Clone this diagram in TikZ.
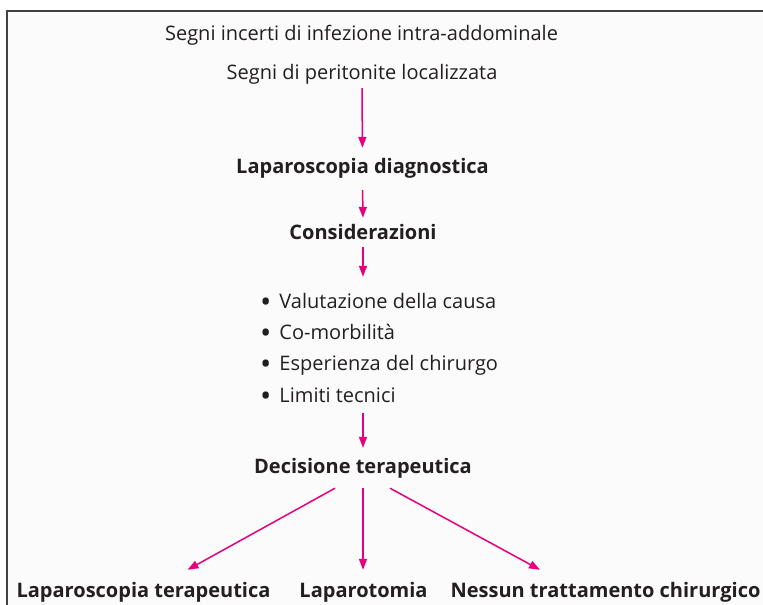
\documentclass[tikz,border=0pt]{standalone}
\usepackage{fontspec}
\usepackage{graphicx}
\setmainfont{Open Sans}
\usetikzlibrary{arrows.meta}
\definecolor{txt}{HTML}{231F20}
\definecolor{mag}{HTML}{E6007E}
\definecolor{bg}{HTML}{FBFBFB}
\newcommand{\bigbul}{\raisebox{-4.2pt}{\scalebox{1.5}{•}}\hspace{8pt}}
\begin{document}
\begin{tikzpicture}[x=1pt,y=-1pt,
  lbl/.style={text=txt,font=\fontsize{20}{24}\selectfont,inner sep=0pt,anchor=base,text height=14pt,text depth=5pt},
  hd/.style={lbl,font=\fontsize{20}{24}\selectfont\bfseries},
  bul/.style={lbl,anchor=base west},
  arr/.style={draw=mag,line width=1.5pt,-{Triangle[length=11pt,width=8pt]}}]
\useasboundingbox (0,0) rectangle (763,605);
\fill[white] (0,0) rectangle (763,605);
\fill[bg] (7,11) rectangle (763,605);
\draw[line width=1.6pt,color=txt!85] (7,605) -- (7,11) -- (763,11);

\node[lbl] (s1) at (361.5,40) {Segni incerti di infezione intra-addominale};
\node[lbl] (s2) at (362,79) {Segni di peritonite localizzata};
\node[hd] (lapd) at (362.5,173) {Laparoscopia diagnostica};
\node[hd] (cons) at (363,239) {Considerazioni};
\node[bul] (b1) at (260,308) {\bigbul Valutazione della causa};
\node[bul] (b2) at (260,339) {\bigbul Co-morbilità};
\node[bul] (b3) at (260,370) {\bigbul Esperienza del chirurgo};
\node[bul] (b4) at (260,402) {\bigbul Limiti tecnici};
\node[hd] (dec) at (363,473) {Decisione terapeutica};
\node[hd] (lt) at (143.5,597) {Laparoscopia terapeutica};
\node[hd] (lo) at (363.5,597) {Laparotomia};
\node[hd] (nt) at (605.5,597) {Nessun trattamento chirurgico};

\draw[arr,shorten <=4pt,shorten >=11pt] (s2.south) -- (lapd.north);
\draw[arr,shorten <=12pt,shorten >=7pt] (lapd.south) -- (cons.north);
\draw[arr,shorten <=3pt,shorten >=17pt] (cons.south) -- (b1.north -| cons.south);
\draw[arr,shorten <=6pt,shorten >=11pt] (b4.south -| dec.north) -- (dec.north);
\draw[arr] ([xshift=-28pt,yshift=-10pt]dec.south) -- ([xshift=44pt,yshift=13pt]lt.north);
\draw[arr] ([yshift=-10pt]dec.south) -- ([xshift=-0.5pt,yshift=13pt]lo.north);
\draw[arr] ([xshift=27pt,yshift=-10pt]dec.south) -- ([xshift=-65.5pt,yshift=13pt]nt.north);
\end{tikzpicture}
\end{document}
